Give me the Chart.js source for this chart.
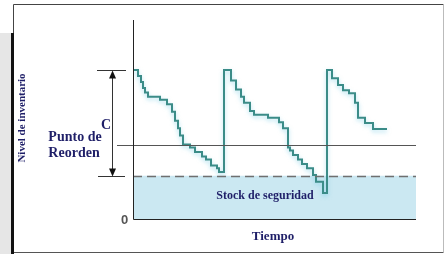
<!DOCTYPE html>
<html>
<head>
<meta charset="utf-8">
<script src="https://cdn.jsdelivr.net/npm/chart.js@4/dist/chart.umd.min.js"></script>
<style>
  html, body { margin: 0; padding: 0; background: #fff; }
  canvas { display: block; }
</style>
</head>
<body>
<canvas id="stockChart" width="446" height="254"></canvas>
<script>
// Inventory level over time (step changes), three replenishment cycles
const timePoints = [0, 5, 8, 10, 12, 15, 27, 34, 39, 42, 45, 47, 50, 57, 62, 69, 73, 78, 84, 86,
    91, 98, 103, 108, 111, 117, 121, 135, 146, 150, 155, 157, 160, 165, 169, 174, 180, 183, 190,
    194, 199, 205, 210, 216, 222, 225, 232, 240, 254];
const inventoryLevels = [100, 96, 92, 88, 85, 82, 80, 77, 72, 66, 61, 56, 50, 48, 45, 42, 40, 36, 34, 31.5,
    100, 93, 87, 82, 78, 72.5, 70, 68, 65, 61, 48, 46, 43, 40, 37, 34, 29.5, 25, 17.5,
    100, 94.5, 90, 86.5, 84.5, 78, 68, 64.5, 60.5, 60.5];

const maxLevel = 100;
const reorderPoint = 50;
const safetyStock = 29;
const timeMax = 283;
const levelMax = 133.6;

const navy = '#1f1f68';
const teal = '#3b8c88';

const points = timePoints.map((t, i) => ({ x: t, y: inventoryLevels[i] }));

// Draws the frame, axes, reference lines and labels
const decorations = {
    id: 'decorations',
    beforeDraw(chart) {
        const ctx = chart.ctx;
        ctx.save();
        ctx.fillStyle = '#fff';
        ctx.fillRect(0, 0, chart.width, chart.height);
        // frame
        ctx.fillStyle = '#e6e6e6';
        ctx.fillRect(0, 33, 11, chart.height - 33);
        ctx.strokeStyle = '#444';
        ctx.lineWidth = 1;
        ctx.beginPath();
        ctx.moveTo(13.5, 4.5);
        ctx.lineTo(443.5, 4.5);
        ctx.moveTo(13.5, 4.5);
        ctx.lineTo(13.5, 33);
        ctx.stroke();
        ctx.strokeStyle = '#bbb';
        ctx.beginPath();
        ctx.moveTo(443.5, 4.5);
        ctx.lineTo(443.5, 252);
        ctx.stroke();
        ctx.strokeStyle = '#555';
        ctx.beginPath();
        ctx.moveTo(13, 252.5);
        ctx.lineTo(443.5, 252.5);
        ctx.stroke();
        ctx.fillStyle = '#111';
        ctx.fillRect(11, 33, 3, chart.height - 33);
        ctx.restore();
    },
    beforeDatasetDraw(chart, args) {
        if (args.index === 0) {
            const ctx = chart.ctx;
            ctx.save();
            ctx.shadowColor = 'rgba(110, 200, 225, 0.55)';
            ctx.shadowBlur = 4;
            ctx.shadowOffsetY = 2;
        }
    },
    afterDatasetDraw(chart, args) {
        if (args.index === 0) chart.ctx.restore();
    },
    afterDatasetsDraw(chart) {
        const ctx = chart.ctx;
        const { left, right, top, bottom } = chart.chartArea;
        const y = chart.scales.y;
        const yMax = Math.round(y.getPixelForValue(maxLevel)) + 0.5;
        const yReorder = Math.round(y.getPixelForValue(reorderPoint)) + 0.5;
        const ySafety = Math.round(y.getPixelForValue(safetyStock)) + 0.5;
        const axisX = Math.round(left) + 0.5;
        const axisY = Math.round(bottom) + 0.5;
        ctx.save();

        // reorder line
        ctx.strokeStyle = '#555';
        ctx.lineWidth = 1;
        ctx.beginPath();
        ctx.moveTo(117, yReorder);
        ctx.lineTo(right, yReorder);
        ctx.stroke();

        // safety stock dashed line
        ctx.strokeStyle = '#6f6f6f';
        ctx.lineWidth = 1.5;
        ctx.setLineDash([9, 5]);
        ctx.beginPath();
        ctx.moveTo(left, ySafety);
        ctx.lineTo(right, ySafety);
        ctx.stroke();
        ctx.setLineDash([]);

        // ticks for C
        ctx.strokeStyle = '#333';
        ctx.lineWidth = 1;
        ctx.beginPath();
        ctx.moveTo(97, yMax);
        ctx.lineTo(126, yMax);
        ctx.moveTo(98, ySafety);
        ctx.lineTo(125, ySafety);
        // C arrow shaft
        ctx.moveTo(112.5, yMax + 4);
        ctx.lineTo(112.5, ySafety - 4);
        ctx.stroke();
        ctx.fillStyle = '#111';
        ctx.beginPath();
        ctx.moveTo(112.5, yMax);
        ctx.lineTo(109, yMax + 8);
        ctx.lineTo(116, yMax + 8);
        ctx.closePath();
        ctx.fill();
        ctx.beginPath();
        ctx.moveTo(112.5, ySafety);
        ctx.lineTo(109, ySafety - 8);
        ctx.lineTo(116, ySafety - 8);
        ctx.closePath();
        ctx.fill();

        // axes
        ctx.strokeStyle = '#222';
        ctx.lineWidth = 1;
        ctx.beginPath();
        ctx.moveTo(axisX, top);
        ctx.lineTo(axisX, axisY);
        ctx.lineTo(right, axisY);
        ctx.stroke();

        // labels
        ctx.fillStyle = navy;
        ctx.textAlign = 'center';
        ctx.textBaseline = 'middle';
        ctx.font = 'bold 14px "Liberation Serif"';
        ctx.fillText('C', 106, 125);
        ctx.fillText('Punto de', 75, 137);
        ctx.fillText('Reorden', 74, 153);
        ctx.font = 'bold 12px "Liberation Serif"';
        ctx.fillText('Stock de seguridad', 265, 196);
        ctx.font = 'bold 13px "Liberation Serif"';
        ctx.fillText('Tiempo', 273, 237);

        ctx.fillStyle = '#555';
        ctx.font = 'bold 13px "Liberation Sans"';
        ctx.fillText('0', 124.5, 220);

        ctx.save();
        ctx.translate(22, 118);
        ctx.rotate(-Math.PI / 2);
        ctx.fillStyle = navy;
        ctx.font = 'bold 11px "Liberation Serif"';
        ctx.fillText('Nivel de inventario', 0, 0);
        ctx.restore();

        ctx.restore();
    }
};

new Chart(document.getElementById('stockChart'), {
    type: 'line',
    data: {
        datasets: [{
            label: 'Nivel de inventario',
            data: points,
            stepped: true,
            borderColor: teal,
            borderWidth: 2,
            pointRadius: 0,
            fill: false
        }, {
            label: 'Stock de seguridad',
            data: [{ x: 0, y: safetyStock }, { x: timeMax, y: safetyStock }],
            borderWidth: 0,
            pointRadius: 0,
            backgroundColor: '#cbe8f2',
            fill: 'origin'
        }]
    },
    options: {
        responsive: false,
        animation: false,
        devicePixelRatio: 1,
        layout: { padding: { left: 133, top: 20, right: 30, bottom: 35 } },
        scales: {
            x: { type: 'linear', min: 0, max: timeMax, display: false },
            y: { min: 0, max: levelMax, display: false }
        },
        plugins: {
            legend: { display: false },
            tooltip: { enabled: false }
        }
    },
    plugins: [decorations]
});
</script>
</body>
</html>
